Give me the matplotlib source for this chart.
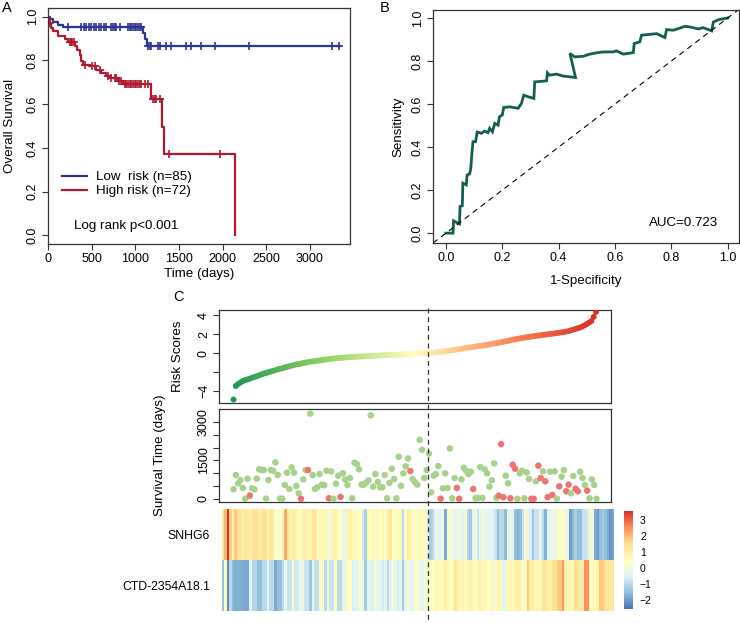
import numpy as np
import matplotlib
matplotlib.use("Agg")
import matplotlib.pyplot as plt
from matplotlib.colors import LinearSegmentedColormap, Normalize
from matplotlib.lines import Line2D

plt.rcParams['font.family'] = ['Liberation Sans', 'DejaVu Sans']

# ---------------- Panel A : Kaplan-Meier ----------------
low_time = [0, 20, 55, 110, 170, 1090, 1116, 1130, 3340]
low_surv = [1.0, 0.988, 0.976, 0.964, 0.952, 0.927, 0.899, 0.868, 0.868]
low_censor = [229, 382, 410, 440, 470, 497, 525, 554, 583, 611, 640, 669, 726, 745,
              764, 783, 822, 917, 936, 955, 975, 994, 1013, 1032, 1051, 1070,
              1147, 1166, 1185, 1261, 1280, 1357, 1414, 1586, 1643, 1758, 1911,
              2305, 3249, 3337]

high_time = [0, 10, 30, 57, 115, 191, 229, 306, 333, 363, 382, 401, 478, 554, 611,
             661, 707, 803, 860, 1185, 1307, 1330, 2140]
high_surv = [1.0, 0.97, 0.95, 0.934, 0.911, 0.899, 0.884, 0.865, 0.85, 0.827, 0.796,
             0.78, 0.773, 0.758, 0.743, 0.73, 0.72, 0.704, 0.694, 0.623, 0.495, 0.372, 0.0]
high_censor = [19, 248, 260, 275, 294, 420, 500, 535, 592, 688, 727, 765, 783, 810,
               841, 880, 898, 918, 937, 956, 975, 994, 1013, 1032, 1051, 1070, 1108,
               1147, 1204, 1223, 1242, 1280, 1387, 1976]

km_labels = ["Low  risk (n=85)", "High risk (n=72)"]
km_pvalue = "Log rank p<0.001"

# ---------------- Panel B : ROC ----------------
roc_fpr = [0, 0.025, 0.027, 0.048, 0.05, 0.058, 0.06, 0.072, 0.075, 0.084, 0.088, 0.092,
           0.096, 0.105, 0.111, 0.126, 0.137, 0.149, 0.155, 0.165, 0.173, 0.185, 0.19,
           0.2, 0.205, 0.226, 0.256, 0.268, 0.276, 0.291, 0.312, 0.315, 0.345, 0.357,
           0.36, 0.368, 0.392, 0.416, 0.46, 0.44, 0.457, 0.487, 0.511, 0.534, 0.558,
           0.594, 0.605, 0.629, 0.665, 0.668, 0.688, 0.694, 0.724, 0.748, 0.777, 0.783,
           0.807, 0.848, 0.866, 0.896, 0.913, 0.943, 0.949, 0.967, 1.0]
roc_tpr = [0, 0, 0.057, 0.043, 0.124, 0.127, 0.232, 0.224, 0.27, 0.275, 0.30, 0.37,
           0.425, 0.425, 0.47, 0.464, 0.474, 0.467, 0.487, 0.471, 0.51, 0.502, 0.541,
           0.549, 0.584, 0.587, 0.58, 0.603, 0.641, 0.634, 0.626, 0.703, 0.706, 0.708,
           0.745, 0.734, 0.739, 0.73, 0.723, 0.835, 0.819, 0.822, 0.832, 0.838, 0.842,
           0.842, 0.847, 0.832, 0.839, 0.881, 0.889, 0.92, 0.924, 0.927, 0.909, 0.946,
           0.943, 0.961, 0.958, 0.949, 0.955, 0.94, 0.981, 0.992, 1.0]
auc_text = "AUC=0.723"

# ---------------- Panel C : risk scores (sorted) ----------------
risk_scores = [
    -4.90, -3.47, -3.25, -3.10, -2.95, -2.85, -2.78, -2.70, -2.60, -2.52,
    -2.45, -2.35, -2.25, -2.16, -2.10, -2.02, -1.95, -1.88, -1.80, -1.72,
    -1.66, -1.60, -1.52, -1.46, -1.40, -1.33, -1.26, -1.20, -1.17, -1.11,
    -1.06, -1.01, -0.96, -0.92, -0.88, -0.84, -0.81, -0.78, -0.74, -0.71,
    -0.68, -0.64, -0.61, -0.58, -0.56, -0.53, -0.51, -0.49, -0.47, -0.45,
    -0.43, -0.42, -0.40, -0.39, -0.37, -0.36, -0.35, -0.33, -0.32, -0.30,
    -0.29, -0.28, -0.26, -0.25, -0.24, -0.23, -0.22, -0.21, -0.20, -0.19,
    -0.18, -0.17, -0.15, -0.14, -0.13, -0.11, -0.10, -0.08, -0.07, -0.06,
    -0.04, -0.03, -0.02, -0.01, 0.00, 0.03, 0.06, 0.08, 0.11, 0.13,
    0.16, 0.19, 0.22, 0.25, 0.29, 0.33, 0.37, 0.41, 0.45, 0.49,
    0.53, 0.56, 0.60, 0.63, 0.67, 0.71, 0.75, 0.78, 0.82, 0.86,
    0.90, 0.95, 0.99, 1.04, 1.09, 1.13, 1.18, 1.23, 1.28, 1.33,
    1.39, 1.44, 1.49, 1.53, 1.57, 1.61, 1.65, 1.69, 1.73, 1.77,
    1.80, 1.84, 1.87, 1.90, 1.93, 1.97, 2.00, 2.03, 2.06, 2.10,
    2.13, 2.17, 2.20, 2.25, 2.30, 2.37, 2.44, 2.52, 2.60, 2.68,
    2.77, 2.90, 3.05, 3.20, 3.37, 3.80, 4.33]

surv_days = [
    375, 930, 607, 736, 426, 5, 788, 129, 413, 375,
    788, 1150, 1137, 1124, 13, 736, 1124, 1098, 1421, 930,
    13, 5, 543, 1021, 388, 1227, 1021, 504, 220, 5,
    762, 1124, 1124, 3320, 930, 388, 452, 969, 556, 530,
    1098, 26, 1072, 5, 594, 904, 78, 995, 749, 543,
    814, 26, 1408, 1357, 1150, 556, 556, 633, 724, 3256,
    478, 969, 659, 452, 452, 930, 26, 620, 1176, 775,
    26, 1641, 504, 995, 1266, 1576, 1085, 775, 646, 556,
    2300, 1912, 814, 1124, 1770, 258, 904, 969, 1279, 10,
    413, 995, 426, 1964, 26, 814, 426, 5, 762, 1214,
    1098, 969, 1059, 388, 26, 39, 1240, 39, 1150, 995,
    478, 724, 1382, 39, 129, 2132, 65, 904, 607, 26,
    1331, 1176, 5, 995, 1098, 26, 1034, 775, 5, 5,
    685, 1292, 814, 1072, 685, 65, 1059, 155, 1072, 5,
    491, 866, 1124, 297, 556, 220, 891, 401, 297, 1059,
    814, 543, 323, 26, 762, 543, 5]
# 1-based positions of patients who died (red points)
dead_patients = [8, 30, 33, 42, 47, 77, 90, 97, 98, 104, 115, 116, 117, 120, 121, 122,
                 129, 130, 132, 133, 135, 136, 138, 141, 144, 145, 148, 149, 153]
low_risk_n = 84.5   # cut between groups (dashed line position)

gene_names = ["SNHG6", "CTD-2354A18.1"]
snhg6 = [
    1.3, 2.0, 3.5, 1.7, 0.9, 1.8, 1.4, 1.3, 1.0, 1.2,
    1.2, 1.0, 1.5, 1.5, 1.2, 1.2, 1.4, 1.4, 0.8, 1.3,
    1.2, 0.3, 0.3, 0.3, 0.8, 2.2, 1.3, 0.9, 0.9, 0.9,
    0.6, 0.6, 1.0, 1.0, 0.8, 0.8, 1.2, 1.2, 0.4, 0.7,
    0.7, 0.7, 0.1, 0.1, 0.9, 0.9, 0.4, 0.4, -0.2, -0.2,
    0.9, 0.9, 0.6,
    0.7, 0.5, 0.5, -0.7, -1.2, 0.7, 0.5, 0.8, 0.3, 0.7,
    0.5, 0.8, 0.4, 1.0, 1.2, 0.5, 0.4, 0.7, 0.5, -1.0,
    0.4, 1.2, 0.8, 0.3, 0.6, 0.3, 0.7, 0.6, 0.3, -0.2,
    -1.2, -1.0, -0.3, -0.2, -0.5, 0.0, -1.8, 0.1, 0.2, -0.1,
    -0.4, 0.1, -0.2, -0.5, 0.0, -1.1, -1.3, -0.3, -0.1, -0.8,
    -0.3, 0.0, -0.3, -0.2,
    -0.5, -0.5, -0.8, -1.5, -1.0, -1.0, -1.6, -0.3, -0.3, -0.4,
    -1.5, -1.7, -1.5, -0.8, 0.2, -0.2, -0.6, -1.4, -0.8, -0.8,
    -0.3, -1.0, -1.7, -0.5, -0.5, 0.0, -0.2, 0.3, 0.5, 0.3,
    0.0, -0.3, -2.0, -1.6, -1.2, -1.5, -1.5, -0.8, -0.8, -0.6,
    0.2, 0.1, -1.8, -2.0, -1.5, -1.3, -1.5, -1.8, -2.1, -1.9]
ctd = [
    -1.4, 0.5, -2.2, -1.0, -1.6, -1.7, -1.7, -1.7, -1.8, -1.8,
    -1.8, -0.5, -1.1, -1.1, -1.5, -1.5, -1.0, -1.0, -0.3, -1.0,
    -1.0, -1.8, -1.5, -1.5, -1.0, -0.3, -0.8, -0.8, 0.4, -0.7,
    -0.7, -0.2, -0.2, -0.8, -0.8, -1.4, -0.3, -0.9, -0.9, 0.3,
    0.3, -1.0, 0.0, -0.8, -0.8, 0.4, -1.0, -1.0, -0.2, -0.2,
    0.5, 0.5, -0.6,
    -0.5, -0.3, 0.3, -0.4, -1.3, -0.5, -0.3, -0.6, 0.2, -0.5,
    -0.4, -0.7, -0.3, -1.0, -0.4, 0.3, -0.4, -0.6, -0.2, -1.3,
    -0.4, 0.3, -0.5, -0.3, 0.4, 0.2, -0.4, -0.3, 0.2, -0.3,
    0.6, 0.4, 0.7, 0.8, 0.5, 0.6, 0.9, 0.7, 0.5, 0.6,
    1.3, 0.8, 0.6, 0.9, 0.6, 0.8, 1.0, 0.7, 0.5, 0.8,
    0.9, 0.6, 0.7, 0.5,
    0.6, -0.3, 0.6, 0.8, 0.7, -0.5, -0.3, 0.7, 0.8, 0.6,
    0.9, 1.0, 0.9, 0.3, 0.4, 1.8, 1.0, 1.1, 0.7, 0.8,
    0.6, 1.3, 1.3, 1.0, 1.0, 1.5, 1.5, 1.8, 1.8, 2.4,
    1.0, 0.7, 0.7, 0.7, 1.4, 1.4, 1.1, 1.0, 2.5, 2.5,
    0.6, 0.6, 0.6, 0.9, 1.8, 1.8, 1.4, 1.4, 1.2, 1.4]
cbar_ticks = [3, 2, 1, 0, -1, -2]

# ---------------- figure ----------------
W, H = 740, 623
fig = plt.figure(figsize=(W / 100, H / 100), dpi=100)

def px_axes(l, t, r, b):
    return fig.add_axes([l / W, 1 - b / H, (r - l) / W, (b - t) / H])

TICK_FS = 9
LAB_FS = 9.6

def r_style(ax):
    for s in ax.spines.values():
        s.set_linewidth(0.9)
        s.set_color('#333333')
    ax.tick_params(direction='out', length=4, width=0.8, labelsize=TICK_FS,
                   color='#333333', pad=2.5)

KM_BLUE = '#2d3592'
KM_RED = '#b0182f'

# Panel A
axA = px_axes(48, 8, 350, 244)
r_style(axA)
axA.step(low_time, low_surv, where='post', color=KM_BLUE, lw=1.6)
axA.step(high_time, high_surv, where='post', color=KM_RED, lw=1.6)
idx = np.searchsorted(low_time, low_censor, side='right') - 1
axA.plot(low_censor, np.array(low_surv)[idx], '+', color=KM_BLUE, ms=5.5, mew=1.2)
idx = np.searchsorted(high_time, high_censor, side='right') - 1
axA.plot(high_censor, np.array(high_surv)[idx], '+', color=KM_RED, ms=5.5, mew=1.2)
axA.set_xlim(0, 3460)
axA.set_ylim(-0.04, 1.04)
axA.set_xticks([0, 500, 1000, 1500, 2000, 2500, 3000])
axA.set_yticks([0, 0.2, 0.4, 0.6, 0.8, 1.0])
axA.set_yticklabels(['0.0', '0.2', '0.4', '0.6', '0.8', '1.0'], rotation=90, va='center')
axA.set_xlabel('Time (days)', fontsize=LAB_FS)
axA.set_ylabel('Overall Survival', fontsize=LAB_FS)
axA.xaxis.set_label_coords((199 - 48) / 302, (244 - 268) / 236)
axA.yaxis.set_label_coords((16 - 48) / 302, 0.5)
leg_handles = [Line2D([0], [0], color=KM_BLUE, lw=1.6), Line2D([0], [0], color=KM_RED, lw=1.6)]
axA.legend(leg_handles, km_labels, loc='upper left',
           bbox_to_anchor=((62 - 48) / 302, (244 - 171) / 236),
           frameon=False, fontsize=LAB_FS, handlelength=1.9, handletextpad=0.65,
           labelspacing=0.12, borderaxespad=0, borderpad=0)
axA.text((74 - 48) / 302, (244 - 226) / 236, km_pvalue, transform=axA.transAxes,
         fontsize=LAB_FS, va='center')

# Panel B
axB = px_axes(433, 10, 739, 243)
r_style(axB)
axB.plot(roc_fpr, roc_tpr, color='#125e50', lw=2.0, solid_joinstyle='miter')
axB.axline((0, 0), (1, 1), color='black', lw=0.8, ls=(0, (5, 4)))
axB.set_xlim(-0.046, 1.04)
axB.set_ylim(-0.046, 1.037)
ticks = [0, 0.2, 0.4, 0.6, 0.8, 1.0]
axB.set_xticks(ticks)
axB.set_xticklabels(['0.0', '0.2', '0.4', '0.6', '0.8', '1.0'])
axB.set_yticks(ticks)
axB.set_yticklabels(['0.0', '0.2', '0.4', '0.6', '0.8', '1.0'], rotation=90, va='center')
axB.set_xlabel('1-Specificity', fontsize=LAB_FS)
axB.set_ylabel('Sensitivity', fontsize=LAB_FS)
axB.xaxis.set_label_coords((586 - 433) / 306, (243 - 275) / 233)
axB.yaxis.set_label_coords((404 - 433) / 306, 0.5)
axB.text((718 - 433) / 306, (243 - 223) / 233, auc_text, transform=axB.transAxes,
         fontsize=LAB_FS, ha='right', va='center')

# Panel C : risk scores
n = len(risk_scores)
pos = np.arange(1, n + 1)
pad = 0.04 * (n - 1)
axR = px_axes(219, 310, 610.5, 403)
r_style(axR)
risk_cmap = LinearSegmentedColormap.from_list(
    'risk', ['#1a9850', '#91cf60', '#ffffbf', '#fc8d59', '#d73027'])
axR.scatter(pos, risk_scores, c=pos, cmap=risk_cmap, s=18, linewidths=0, zorder=3)
axR.set_xlim(1 - pad, n + pad)
axR.set_ylim(-5.26, 4.53)
axR.set_xticks([])
axR.set_yticks([-4, -2, 0, 2, 4])
axR.set_yticklabels(['\u22124', '', '0', '2', '4'], rotation=90, va='center')
axR.set_ylabel('Risk Scores', fontsize=LAB_FS)
axR.yaxis.set_label_coords((184 - 219) / 391.5, 0.5)

# Panel C : survival time
axS = px_axes(219, 409, 611, 502)
r_style(axS)
status = np.zeros(n, dtype=int)
status[np.array(dead_patients) - 1] = 1
cols = np.where(status == 1, '#ee7474', '#a8d18c')
axS.scatter(pos, surv_days, c=cols, s=22, linewidths=0, zorder=3)
axS.set_xlim(1 - pad, n + pad)
axS.set_ylim(-120, 3500)
axS.set_xticks([])
axS.set_yticks([0, 500, 1000, 1500, 2000, 2500, 3000])
axS.set_yticklabels(['0', '', '', '1500', '', '', '3000'], rotation=90, va='center')
axS.set_ylabel('Survival Time (days)', fontsize=LAB_FS)
axS.yaxis.set_label_coords((166 - 219) / 392, 0.5)

# Heatmap
heat_cmap = LinearSegmentedColormap.from_list(
    'heat', ['#4575b4', '#91bfdb', '#e0f3f8', '#ffffbf', '#fee090', '#fc8d59', '#d73027'])
norm = Normalize(vmin=-2.56, vmax=3.56)
axHm = px_axes(221.7, 509, 613.3, 611)
mat = np.array([snhg6, ctd])
im = axHm.imshow(mat, aspect='auto', cmap=heat_cmap, norm=norm, interpolation='nearest')
for s in axHm.spines.values():
    s.set_visible(False)
axHm.set_xticks([])
axHm.set_yticks([0, 1])
axHm.set_yticklabels(gene_names, fontsize=8.8)
axHm.tick_params(axis='y', length=0, pad=8.5)

cax = px_axes(624, 511, 633, 609)
cb = fig.colorbar(im, cax=cax)
cb.outline.set_visible(False)
cb.set_ticks(cbar_ticks)
cb.set_ticklabels(['3', '2', '1', '0', '\u22121', '\u22122'])
cb.ax.tick_params(length=0, labelsize=7.5, pad=5)

# dashed separator spanning panel C
xd = axR.transData.transform((low_risk_n, 0))[0]
xf = fig.transFigure.inverted().transform((xd, 0))[0]
fig.add_artist(Line2D([xf, xf], [1 - 308 / H, 0], transform=fig.transFigure,
                      color='#333333', lw=0.9, ls=(0, (4, 3)), zorder=10))

# panel letters
fig.text(2 / W, 1 - 8 / H, 'A', fontsize=10.5, va='center', ha='left')
fig.text(380 / W, 1 - 8 / H, 'B', fontsize=10.5, va='center', ha='left')
fig.text(173 / W, 1 - 297 / H, 'C', fontsize=10.5, va='center', ha='left')

fig.savefig('out.png', dpi=100)
